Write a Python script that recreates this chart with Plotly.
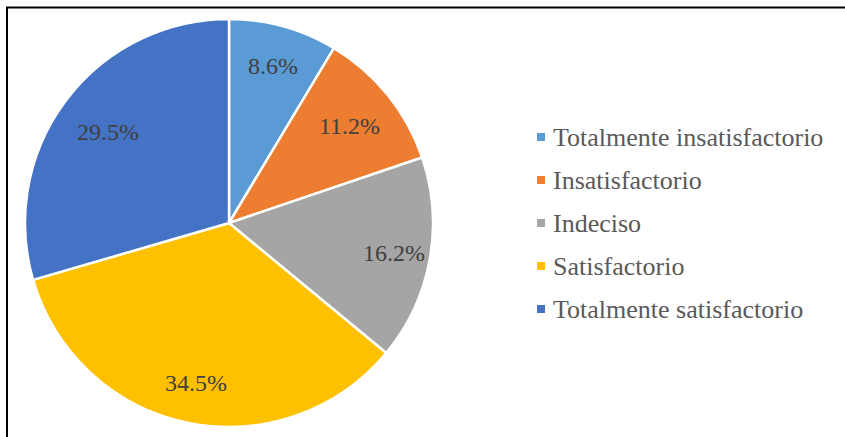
import math
import plotly.graph_objects as go

# Survey results, in clockwise order from 12 o'clock
categories = [
    "Totalmente insatisfactorio",
    "Insatisfactorio",
    "Indeciso",
    "Satisfactorio",
    "Totalmente satisfactorio",
]
percentages = [8.6, 11.2, 16.2, 34.5, 29.5]
colors = ["#5B9BD5", "#ED7D31", "#A5A5A5", "#FFC000", "#4472C4"]

SERIF = "'Times New Roman', 'Liberation Serif', Times, serif"

W, H = 845, 437
# pie bounding box in pixels (left, top, right, bottom)
px0, py0, px1, py1 = 25, 19, 433, 427
dom_x = [px0 / W, px1 / W]
dom_y = [1 - py1 / H, 1 - py0 / H]

fig = go.Figure(
    go.Pie(
        labels=categories,
        values=percentages,
        sort=False,
        direction="clockwise",
        rotation=0,
        marker=dict(colors=colors, line=dict(color="white", width=2.5)),
        textinfo="none",
        hoverinfo="label+percent",
        showlegend=False,
        domain=dict(x=dom_x, y=dom_y),
    )
)

# value labels placed along each slice's bisector
cx, cy = (px0 + px1) / 2, (py0 + py1) / 2
R = (px1 - px0) / 2
label_radius = [0.80, 0.76, 0.82, 0.80, 0.74]
total = sum(percentages)
annotations = []
cum = 0.0
for v, rf in zip(percentages, label_radius):
    mid = (cum + v / 2) / total * 2 * math.pi
    cum += v
    x = cx + rf * R * math.sin(mid)
    y = cy - rf * R * math.cos(mid)
    annotations.append(dict(
        x=x / W, y=1 - y / H, xref="paper", yref="paper",
        text=f"{v:.1f}%", showarrow=False,
        font=dict(family=SERIF, size=24, color="#404040"),
        xanchor="center", yanchor="middle",
    ))

# legend: colored squares with category names
shapes = []
leg_x, leg_y0, leg_dy = 541, 137, 43
for i, (name, col) in enumerate(zip(categories, colors)):
    y = leg_y0 + i * leg_dy
    shapes.append(dict(
        type="rect", xref="paper", yref="paper",
        x0=(leg_x - 4) / W, x1=(leg_x + 4) / W,
        y0=1 - (y + 4) / H, y1=1 - (y - 4) / H,
        fillcolor=col, line=dict(width=0),
    ))
    annotations.append(dict(
        x=(leg_x + 10) / W, y=1 - y / H, xref="paper", yref="paper",
        text=name, showarrow=False,
        font=dict(family=SERIF, size=26, color="#595959"),
        xanchor="left", yanchor="middle",
    ))

# outer frame
shapes.append(dict(
    type="rect", xref="paper", yref="paper",
    x0=7 / W, x1=1.05, y0=-0.05, y1=1 - 7.5 / H,
    line=dict(color="black", width=2), fillcolor="rgba(0,0,0,0)",
))

fig.update_layout(
    width=W, height=H,
    margin=dict(l=0, r=0, t=0, b=0),
    paper_bgcolor="white",
    plot_bgcolor="white",
    annotations=annotations,
    shapes=shapes,
)

fig.write_html("out.html")
